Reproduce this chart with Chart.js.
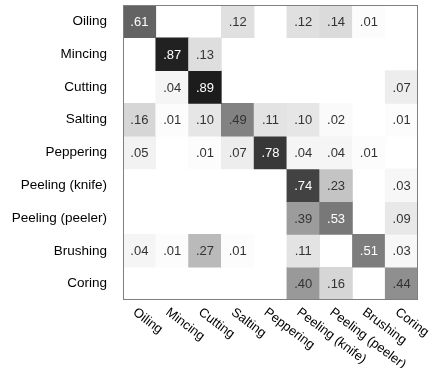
<!DOCTYPE html>
<html>
<head>
<meta charset="utf-8">
<script src="https://cdn.jsdelivr.net/npm/chart.js@4"></script>
<style>
  html, body { margin: 0; padding: 0; background: #fff; }
  #wrap { width: 431px; height: 368px; }
</style>
</head>
<body>
<div id="wrap"><canvas id="chart" width="431" height="368"></canvas></div>
<script>
// rows = true class, columns = predicted class
const classes = ['Oiling', 'Mincing', 'Cutting', 'Salting', 'Peppering',
                 'Peeling (knife)', 'Peeling (peeler)', 'Brushing', 'Coring'];

const oiling      = [.61, null, null, .12, null, .12, .14, .01, null];
const mincing     = [null, .87, .13, null, null, null, null, null, null];
const cutting     = [null, .04, .89, null, null, null, null, null, .07];
const salting     = [.16, .01, .10, .49, .11, .10, .02, null, .01];
const peppering   = [.05, null, .01, .07, .78, .04, .04, .01, null];
const peelKnife   = [null, null, null, null, null, .74, .23, null, .03];
const peelPeeler  = [null, null, null, null, null, .39, .53, null, .09];
const brushing    = [.04, .01, .27, .01, null, .11, null, .51, .03];
const coring      = [null, null, null, null, null, .40, .16, null, .44];

const matrix = [oiling, mincing, cutting, salting, peppering, peelKnife, peelPeeler, brushing, coring];

const FONT = "'Liberation Sans', Arial, sans-serif";

function shade(v) {
    const g = Math.round(255 * (1 - v));
    return `rgb(${g},${g},${g})`;
}

const datasets = matrix.map((row, r) => ({
    label: classes[r],
    data: row.map(v => v === null ? null : [r - 0.5, r + 0.5]),
    backgroundColor: row.map(v => v === null ? 'rgba(0,0,0,0)' : shade(v)),
    borderWidth: 0,
    grouped: false,
    barPercentage: 1,
    categoryPercentage: 1
}));

const cellText = {
    id: 'cellText',
    afterDatasetsDraw(chart) {
        const ctx = chart.ctx;
        const { x, y } = chart.scales;
        ctx.save();
        ctx.font = '13px ' + FONT;
        ctx.textAlign = 'center';
        ctx.textBaseline = 'middle';
        matrix.forEach((row, r) => {
            row.forEach((v, c) => {
                if (v === null) return;
                ctx.fillStyle = v > 0.5 ? '#ffffff' : '#333333';
                ctx.fillText(v.toFixed(2).replace(/^0/, ''), x.getPixelForValue(c), y.getPixelForValue(r) + 1);
            });
        });
        ctx.restore();
    },
    afterDraw(chart) {
        const ctx = chart.ctx;
        const a = chart.chartArea;
        const x = chart.scales.x;
        ctx.save();
        ctx.strokeStyle = '#808080';
        ctx.lineWidth = 1;
        ctx.strokeRect(Math.round(a.left) + 0.5, Math.round(a.top) + 0.5,
                       Math.round(a.right - a.left) - 1, Math.round(a.bottom - a.top) - 1);
        // x labels, rotated clockwise
        ctx.font = '13px ' + FONT;
        ctx.fillStyle = '#000';
        ctx.textAlign = 'left';
        ctx.textBaseline = 'middle';
        classes.forEach((name, c) => {
            ctx.save();
            ctx.translate(x.getPixelForValue(c) - 5, a.bottom + 11);
            ctx.rotate(37 * Math.PI / 180);
            ctx.fillText(name, 0, 0);
            ctx.restore();
        });
        ctx.restore();
    }
};

new Chart(document.getElementById('chart'), {
    type: 'bar',
    data: { labels: classes, datasets },
    plugins: [cellText],
    options: {
        responsive: false,
        animation: false,
        layout: { padding: { top: 5, right: 13, left: 0, bottom: 0 } },
        plugins: {
            legend: { display: false },
            tooltip: { enabled: false }
        },
        scales: {
            x: {
                type: 'category',
                grid: { display: false },
                border: { display: false },
                ticks: { display: false },
                afterFit(scale) {
                    scale.height = 68;
                    scale.paddingLeft = 0;
                    scale.paddingRight = 0;
                }
            },
            y: {
                type: 'linear',
                min: -0.5,
                max: 8.5,
                reverse: true,
                grid: { display: false, drawTicks: false },
                border: { display: false },
                afterBuildTicks(scale) {
                    scale.ticks = classes.map((_, i) => ({ value: i }));
                },
                afterFit(scale) {
                    scale.width = 123;
                    scale.paddingTop = 0;
                    scale.paddingBottom = 0;
                },
                ticks: {
                    padding: 16,
                    color: '#000',
                    font: { size: 13.5, family: FONT },
                    callback: (v) => classes[v]
                }
            }
        }
    }
});
</script>
</body>
</html>
